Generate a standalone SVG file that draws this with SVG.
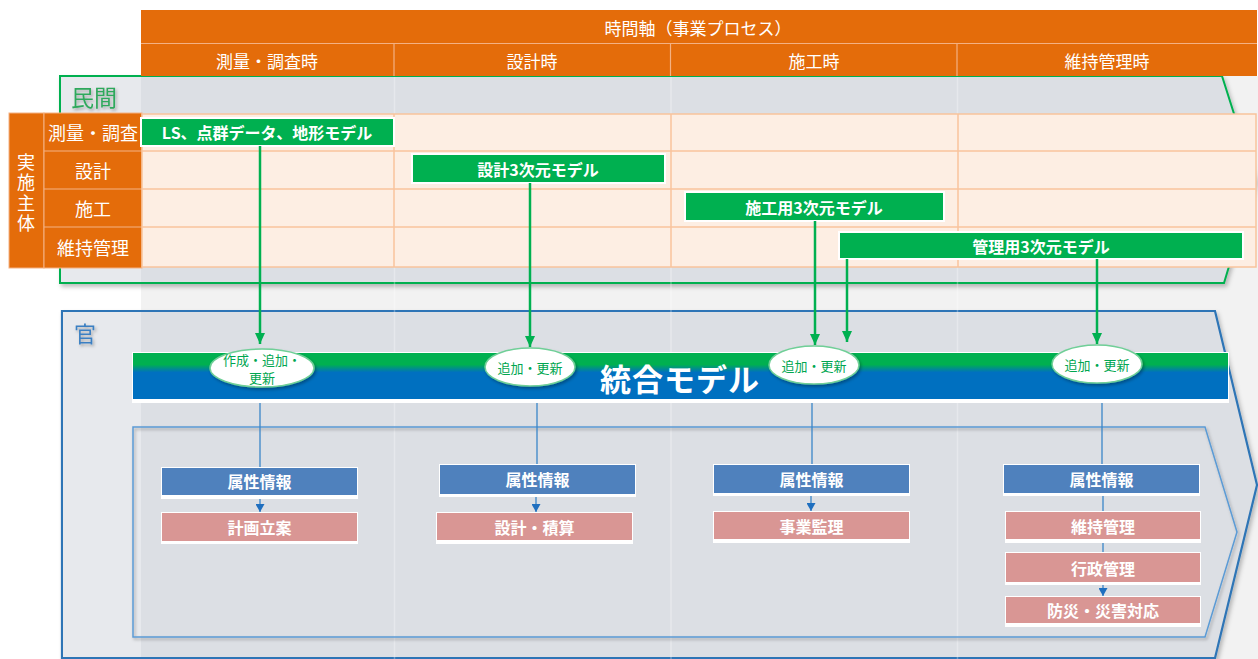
<svg xmlns="http://www.w3.org/2000/svg" width="1258" height="659" viewBox="0 0 1258 659">
<style>
text{font-family:"Noto Sans CJK JP","Noto Sans",sans-serif;}
.hdr{fill:#fff;font-size:17px;text-anchor:middle;dominant-baseline:central;}
.rowl{fill:#fff;font-size:18px;text-anchor:middle;dominant-baseline:central;}
.gbox{fill:#00b050;stroke:#fff;stroke-width:2;}
.gtx{fill:#fff;font-size:16px;font-weight:bold;text-anchor:middle;dominant-baseline:central;}
.oval{fill:#fff;stroke:#6fcf97;stroke-width:1.5;}
.otx{fill:#00a650;font-size:13px;text-anchor:middle;dominant-baseline:central;}
.attr{fill:#4f81bd;}
.use{fill:#d99694;}
.frame{fill:#fff;}
.btx{fill:#fff;font-size:16px;font-weight:bold;text-anchor:middle;dominant-baseline:central;}
.garrow{stroke:#00b050;stroke-width:2.5;fill:none;}
.bline{stroke:#3a86c8;stroke-width:1.3;fill:none;}
.cell{fill:#fdeee3;stroke:#f8c39c;stroke-width:1.5;}
.colsep{stroke:#ffffff;stroke-opacity:0.3;stroke-width:1.5;}
</style>
<defs>
<filter id="sh" x="-5%" y="-5%" width="115%" height="120%">
<feDropShadow dx="2" dy="3" stdDeviation="2" flood-color="#000" flood-opacity="0.25"/>
</filter>
<filter id="shs" x="-10%" y="-20%" width="130%" height="160%">
<feDropShadow dx="1.5" dy="2" stdDeviation="1.5" flood-color="#000" flood-opacity="0.3"/>
</filter>
<linearGradient id="barg" x1="0" y1="0" x2="0" y2="1">
<stop offset="0" stop-color="#00b050"/>
<stop offset="0.25" stop-color="#00b050"/>
<stop offset="0.42" stop-color="#0070c0"/>
<stop offset="1" stop-color="#0070c0"/>
</linearGradient>
<marker id="ba" markerWidth="9" markerHeight="8" refX="4.5" refY="8" orient="0" markerUnits="userSpaceOnUse" viewBox="0 0 9 8">
<path d="M0,0 L9,0 L4.5,8 Z" fill="#1f6fbf"/>
</marker>
<marker id="gd" markerWidth="10" markerHeight="11" refX="5" refY="11" orient="0" markerUnits="userSpaceOnUse" viewBox="0 0 10 11">
<path d="M0,0 L10,0 L5,11 Z" fill="#00b050"/>
</marker>
</defs>

<rect x="0" y="0" width="1258" height="659" fill="#fff"/>
<rect x="141" y="76" width="1117" height="583" fill="#f2f2f2"/>

<!-- 民間 region -->
<g id="minkan">
<polygon points="60,76 1222,76 1255,180 1224,283 60,283" fill="#dcdfe4" stroke="#00b050" stroke-width="2" filter="url(#sh)"/>
<rect x="61" y="77" width="80" height="205" fill="#e7e9ed"/>
<text x="94" y="96" font-size="23" fill="#2fa85c" text-anchor="middle" dominant-baseline="central" filter="url(#shs)">民間</text>
</g>

<!-- 官 region -->
<g id="kan">
<polygon points="62,311 1215,311 1257,485 1215,658 62,658" fill="#dcdfe4" stroke="#2e75b6" stroke-width="2.2" filter="url(#sh)"/>
<rect x="63" y="312" width="78" height="345" fill="#e7e9ed"/>
<text x="85" y="332" font-size="22" fill="#3a7fc2" text-anchor="middle" dominant-baseline="central" filter="url(#shs)">官</text>
</g>

<g id="colseps">
<line class="colsep" x1="394.5" y1="77" x2="394.5" y2="659"/>
<line class="colsep" x1="671" y1="77" x2="671" y2="659"/>
<line class="colsep" x1="957.5" y1="77" x2="957.5" y2="659"/>
</g>

<!-- header -->
<g id="header">
<rect x="141" y="10" width="1116" height="66" fill="#e46c0a"/>
<line x1="141" y1="43.5" x2="1257" y2="43.5" stroke="#f4b183" stroke-width="1.2"/>
<line x1="394" y1="44" x2="394" y2="76" stroke="#f4b183" stroke-width="1.2"/>
<line x1="670.5" y1="44" x2="670.5" y2="76" stroke="#f4b183" stroke-width="1.2"/>
<line x1="957" y1="44" x2="957" y2="76" stroke="#f4b183" stroke-width="1.2"/>
<text class="hdr" x="698" y="27">時間軸（事業プロセス）</text>
<text class="hdr" x="267" y="60">測量・調査時</text>
<text class="hdr" x="532" y="60">設計時</text>
<text class="hdr" x="814" y="60">施工時</text>
<text class="hdr" x="1107" y="60">維持管理時</text>
</g>

<!-- table -->
<g id="table">
<rect x="9" y="113" width="35" height="155" fill="#e46c0a" stroke="#f4b183" stroke-width="1"/>
<rect x="44" y="113" width="98" height="155" fill="#e46c0a" stroke="#f4b183" stroke-width="1"/>
<line x1="44" y1="151" x2="142" y2="151" stroke="#f4b183" stroke-width="1.2"/>
<line x1="44" y1="189" x2="142" y2="189" stroke="#f4b183" stroke-width="1.2"/>
<line x1="44" y1="227" x2="142" y2="227" stroke="#f4b183" stroke-width="1.2"/>
<text x="26" y="194" font-size="18" fill="#fff" writing-mode="vertical-rl" text-anchor="middle" letter-spacing="2.5">実施主体</text>
<text class="rowl" x="93" y="132">測量・調査</text>
<text class="rowl" x="93" y="170">設計</text>
<text class="rowl" x="93" y="208">施工</text>
<text class="rowl" x="93" y="247">維持管理</text>
<rect class="cell" x="142" y="114" width="1114" height="153"/>
<line x1="142" y1="151" x2="1256" y2="151" stroke="#f8c39c" stroke-width="1.5"/>
<line x1="142" y1="189" x2="1256" y2="189" stroke="#f8c39c" stroke-width="1.5"/>
<line x1="142" y1="227" x2="1256" y2="227" stroke="#f8c39c" stroke-width="1.5"/>
<line x1="394" y1="114" x2="394" y2="267" stroke="#f8c39c" stroke-width="1.5"/>
<line x1="671" y1="114" x2="671" y2="267" stroke="#f8c39c" stroke-width="1.5"/>
<line x1="958" y1="114" x2="958" y2="267" stroke="#f8c39c" stroke-width="1.5"/>
</g>

<!-- green model boxes -->
<g id="m-survey">
<rect class="gbox" x="141" y="118" width="253" height="28"/>
<text class="gtx" x="267" y="132">LS、点群データ、地形モデル</text>
</g>
<g id="m-design">
<rect class="gbox" x="412" y="154" width="253" height="29"/>
<text class="gtx" x="538" y="168.5">設計3次元モデル</text>
</g>
<g id="m-const">
<rect class="gbox" x="685" y="192" width="259" height="29"/>
<text class="gtx" x="814" y="206.5">施工用3次元モデル</text>
</g>
<g id="m-maint">
<rect class="gbox" x="839" y="232" width="404" height="27"/>
<text class="gtx" x="1041" y="245.5">管理用3次元モデル</text>
</g>

<!-- integrated model bar -->
<g id="integrated">
<rect x="132" y="352" width="1097" height="51" fill="#fff"/>
<rect x="133" y="353" width="1095" height="46" fill="url(#barg)"/>
<text x="680" y="377" font-size="31" font-weight="bold" fill="#fff" text-anchor="middle" dominant-baseline="central" letter-spacing="1">統合モデル</text>
</g>

<!-- inner chevron -->
<g id="usage-area">
<polygon points="133,427 1205,427 1237,532 1205,637 133,637" fill="none" stroke="#5b9bd5" stroke-width="1.5" filter="url(#shs)"/>
</g>

<!-- connectors -->
<g id="connectors">
<line class="garrow" x1="260" y1="146" x2="260" y2="344" marker-end="url(#gd)"/>
<line class="garrow" x1="530" y1="183" x2="530" y2="347" marker-end="url(#gd)"/>
<line class="garrow" x1="815" y1="221" x2="815" y2="345" marker-end="url(#gd)"/>
<line class="garrow" x1="847" y1="259" x2="847" y2="342" marker-end="url(#gd)"/>
<line class="garrow" x1="1097" y1="259" x2="1097" y2="344" marker-end="url(#gd)"/>
<line class="bline" x1="260" y1="403" x2="260" y2="467"/>
<line class="bline" x1="537" y1="403" x2="537" y2="465"/>
<line class="bline" x1="812" y1="403" x2="812" y2="464"/>
<line class="bline" x1="1102" y1="403" x2="1102" y2="465"/>
<line class="bline" x1="260" y1="499" x2="260" y2="512" marker-end="url(#ba)"/>
<line class="bline" x1="536" y1="497" x2="536" y2="512" marker-end="url(#ba)"/>
<line class="bline" x1="811" y1="496" x2="811" y2="511" marker-end="url(#ba)"/>
<line class="bline" x1="1103" y1="496" x2="1103" y2="511"/>
<line class="bline" x1="1103" y1="543" x2="1103" y2="552"/>
<line class="bline" x1="1103" y1="585" x2="1103" y2="596" marker-end="url(#ba)"/>
</g>

<!-- ovals -->
<g id="o1">
<ellipse class="oval" cx="262" cy="368" rx="52" ry="19" filter="url(#shs)"/>
<text class="otx" x="262" y="359">作成・追加・</text>
<text class="otx" x="262" y="377">更新</text>
</g>
<g id="o2">
<ellipse class="oval" cx="530" cy="367" rx="45" ry="19" filter="url(#shs)"/>
<text class="otx" x="530" y="367">追加・更新</text>
</g>
<g id="o3">
<ellipse class="oval" cx="814" cy="365" rx="45" ry="19" filter="url(#shs)"/>
<text class="otx" x="814" y="365">追加・更新</text>
</g>
<g id="o4">
<ellipse class="oval" cx="1097" cy="364" rx="45" ry="19" filter="url(#shs)"/>
<text class="otx" x="1097" y="364">追加・更新</text>
</g>

<!-- attribute boxes -->
<g id="a1">
<rect class="frame" x="161" y="467" width="197" height="32"/>
<rect class="attr" x="162" y="468" width="195" height="27"/>
<text class="btx" x="259.5" y="481">属性情報</text>
</g>
<g id="a2">
<rect class="frame" x="439" y="464" width="197" height="33"/>
<rect class="attr" x="440" y="465" width="195" height="29"/>
<text class="btx" x="537.5" y="479">属性情報</text>
</g>
<g id="a3">
<rect class="frame" x="713" y="464" width="197" height="32"/>
<rect class="attr" x="714" y="465" width="195" height="28"/>
<text class="btx" x="811.5" y="478.5">属性情報</text>
</g>
<g id="a4">
<rect class="frame" x="1003" y="464" width="197" height="32"/>
<rect class="attr" x="1004" y="465" width="195" height="28"/>
<text class="btx" x="1101.5" y="478.5">属性情報</text>
</g>

<!-- usage boxes -->
<g id="u1">
<rect class="frame" x="161" y="512" width="197" height="32"/>
<rect class="use" x="162" y="513" width="195" height="28"/>
<text class="btx" x="259.5" y="527">計画立案</text>
</g>
<g id="u2">
<rect class="frame" x="436" y="512" width="197" height="32"/>
<rect class="use" x="437" y="513" width="195" height="27"/>
<text class="btx" x="534.5" y="526.5">設計・積算</text>
</g>
<g id="u3">
<rect class="frame" x="713" y="511" width="197" height="32"/>
<rect class="use" x="714" y="512" width="195" height="27"/>
<text class="btx" x="811.5" y="525.5">事業監理</text>
</g>
<g id="u4">
<rect class="frame" x="1005" y="511" width="196" height="32"/>
<rect class="use" x="1006" y="512" width="194" height="27"/>
<text class="btx" x="1103" y="525.5">維持管理</text>
</g>
<g id="u5">
<rect class="frame" x="1005" y="552" width="196" height="33"/>
<rect class="use" x="1006" y="553" width="194" height="29"/>
<text class="btx" x="1103" y="567.5">行政管理</text>
</g>
<g id="u6">
<rect class="frame" x="1005" y="596" width="196" height="31"/>
<rect class="use" x="1006" y="597" width="194" height="26"/>
<text class="btx" x="1103" y="610">防災・災害対応</text>
</g>
</svg>
